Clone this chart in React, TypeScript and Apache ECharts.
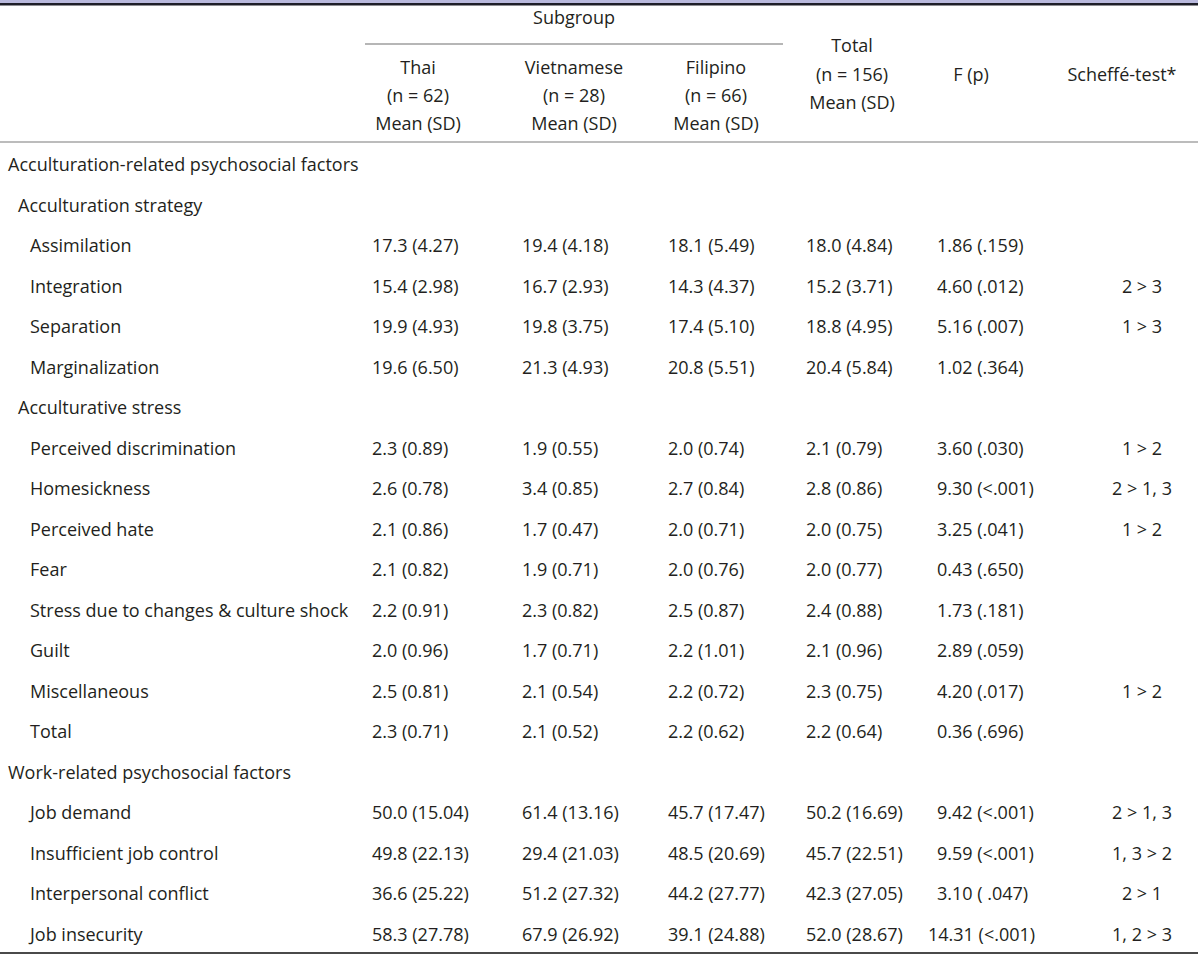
import React, { useEffect, useRef } from "react";
import * as echarts from "echarts";

// ---- Data ----
const rowLabels: string[] = [
  "Acculturation-related psychosocial factors",
  "Acculturation strategy",
  "Assimilation",
  "Integration",
  "Separation",
  "Marginalization",
  "Acculturative stress",
  "Perceived discrimination",
  "Homesickness",
  "Perceived hate",
  "Fear",
  "Stress due to changes & culture shock",
  "Guilt",
  "Miscellaneous",
  "Total",
  "Work-related psychosocial factors",
  "Job demand",
  "Insufficient job control",
  "Interpersonal conflict",
  "Job insecurity",
];
// 0 = section, 1 = subsection, 2 = item
const rowLevels: number[] = [0, 1, 2, 2, 2, 2, 1, 2, 2, 2, 2, 2, 2, 2, 2, 0, 2, 2, 2, 2];

const thaiMean: (number | null)[] = [null, null, 17.3, 15.4, 19.9, 19.6, null, 2.3, 2.6, 2.1, 2.1, 2.2, 2.0, 2.5, 2.3, null, 50.0, 49.8, 36.6, 58.3];
const thaiSD: (number | null)[] = [null, null, 4.27, 2.98, 4.93, 6.5, null, 0.89, 0.78, 0.86, 0.82, 0.91, 0.96, 0.81, 0.71, null, 15.04, 22.13, 25.22, 27.78];
const vietMean: (number | null)[] = [null, null, 19.4, 16.7, 19.8, 21.3, null, 1.9, 3.4, 1.7, 1.9, 2.3, 1.7, 2.1, 2.1, null, 61.4, 29.4, 51.2, 67.9];
const vietSD: (number | null)[] = [null, null, 4.18, 2.93, 3.75, 4.93, null, 0.55, 0.85, 0.47, 0.71, 0.82, 0.71, 0.54, 0.52, null, 13.16, 21.03, 27.32, 26.92];
const filMean: (number | null)[] = [null, null, 18.1, 14.3, 17.4, 20.8, null, 2.0, 2.7, 2.0, 2.0, 2.5, 2.2, 2.2, 2.2, null, 45.7, 48.5, 44.2, 39.1];
const filSD: (number | null)[] = [null, null, 5.49, 4.37, 5.1, 5.51, null, 0.74, 0.84, 0.71, 0.76, 0.87, 1.01, 0.72, 0.62, null, 17.47, 20.69, 27.77, 24.88];
const totMean: (number | null)[] = [null, null, 18.0, 15.2, 18.8, 20.4, null, 2.1, 2.8, 2.0, 2.0, 2.4, 2.1, 2.3, 2.2, null, 50.2, 45.7, 42.3, 52.0];
const totSD: (number | null)[] = [null, null, 4.84, 3.71, 4.95, 5.84, null, 0.79, 0.86, 0.75, 0.77, 0.88, 0.96, 0.75, 0.64, null, 16.69, 22.51, 27.05, 28.67];
const fValues: (number | null)[] = [null, null, 1.86, 4.6, 5.16, 1.02, null, 3.6, 9.3, 3.25, 0.43, 1.73, 2.89, 4.2, 0.36, null, 9.42, 9.59, 3.1, 14.31];
const pValues: string[] = ["", "", ".159", ".012", ".007", ".364", "", ".030", "<.001", ".041", ".650", ".181", ".059", ".017", ".696", "", "<.001", "<.001", " .047", "<.001"];
const scheffe: string[] = ["", "", "", "2 > 3", "1 > 3", "", "", "1 > 2", "2 > 1, 3", "1 > 2", "", "", "", "1 > 2", "", "", "2 > 1, 3", "1, 3 > 2", "2 > 1", "1, 2 > 3"];

const subgroupTitle = "Subgroup";
const groupHeaders: string[][] = [
  ["Thai", "(n = 62)", "Mean (SD)"],
  ["Vietnamese", "(n = 28)", "Mean (SD)"],
  ["Filipino", "(n = 66)", "Mean (SD)"],
];
const totalHeader: string[] = ["Total", "(n = 156)", "Mean (SD)"];
const fHeader = "F (p)";
const scheffeHeader = "Scheffé-test*";

// ---- Layout / style ----
const FONT_FAMILY = '"Open Sans", "Noto Sans", sans-serif';
const FONT_SIZE = 18;
const TEXT_COLOR = "#231f20";
const ROW0_Y = 164;
const ROW_H = 40.5;
const LEVEL_X = [8, 18, 30];
const DATA_X = [372, 522, 668, 806];
const F_X = 937;
const DIGIT_W = 9;
const SCHEFFE_CX = 1142;
const HEAD_CX = [418, 574, 716];
const TOTAL_CX = 852;
const F_CX = 971;
const SCHEFFE_HEAD_CX = 1122;

function txt(text: string, x: number, y: number, align: string = "left") {
  return {
    type: "text",
    x,
    y,
    silent: true,
    style: {
      text,
      fill: TEXT_COLOR,
      font: `${FONT_SIZE}px ${FONT_FAMILY}`,
      align,
      verticalAlign: "middle",
    },
  };
}

function line(x1: number, y1: number, x2: number, y2: number, stroke: string, lineWidth: number) {
  return {
    type: "line",
    silent: true,
    shape: { x1, y1, x2, y2 },
    style: { stroke, lineWidth },
  };
}

function fmt(m: number | null, s: number | null): string {
  if (m === null || s === null) return "";
  return `${m.toFixed(1)} (${s.toFixed(2)})`;
}

export default function App() {
  const ref = useRef<HTMLDivElement>(null);

  useEffect(() => {
    if (!ref.current) return;
    const chart = echarts.init(ref.current, undefined, { renderer: "svg" });
    const els: any[] = [];

    // top border
    els.push({ type: "rect", silent: true, shape: { x: 0, y: 0, width: 1198, height: 3 }, style: { fill: "#b9b9dd" } });
    els.push({ type: "rect", silent: true, shape: { x: 0, y: 3, width: 1198, height: 2.5 }, style: { fill: "#1e1e28" } });

    // header
    els.push(txt(subgroupTitle, (365 + 783) / 2, 17, "center"));
    els.push(line(365, 44, 783, 44, "#6e6e6e", 1.2));
    const hy = [67, 95, 123];
    groupHeaders.forEach((g, gi) => {
      g.forEach((t, li) => els.push(txt(t, HEAD_CX[gi], hy[li], "center")));
    });
    const ty = [45, 74, 102];
    totalHeader.forEach((t, li) => els.push(txt(t, TOTAL_CX, ty[li], "center")));
    els.push(txt(fHeader, F_CX, 74, "center"));
    els.push(txt(scheffeHeader, SCHEFFE_HEAD_CX, 74, "center"));
    els.push(line(0, 142, 1198, 142, "#7a7a7a", 1.2));

    // body
    const cols = [
      [thaiMean, thaiSD],
      [vietMean, vietSD],
      [filMean, filSD],
      [totMean, totSD],
    ];
    rowLabels.forEach((label, i) => {
      const y = ROW0_Y + i * ROW_H;
      els.push(txt(label, LEVEL_X[rowLevels[i]], y));
      cols.forEach(([m, s], ci) => {
        const t = fmt(m[i], s[i]);
        if (t) els.push(txt(t, DATA_X[ci], y));
      });
      const f = fValues[i];
      if (f !== null) {
        const fx = f >= 10 ? F_X - DIGIT_W : F_X;
        els.push(txt(`${f.toFixed(2)} (${pValues[i]})`, fx, y));
      }
      if (scheffe[i]) els.push(txt(scheffe[i], SCHEFFE_CX, y, "center"));
    });

    // bottom border
    els.push(line(0, 953, 1198, 953, "#4a4a4a", 2));

    chart.setOption({
      animation: false,
      backgroundColor: "#ffffff",
      graphic: { elements: els },
    });
    return () => chart.dispose();
  }, []);

  return (
    <div
      ref={ref}
      style={{ position: "fixed", left: 0, top: 0, width: 1200, height: 956 }}
    />
  );
}
